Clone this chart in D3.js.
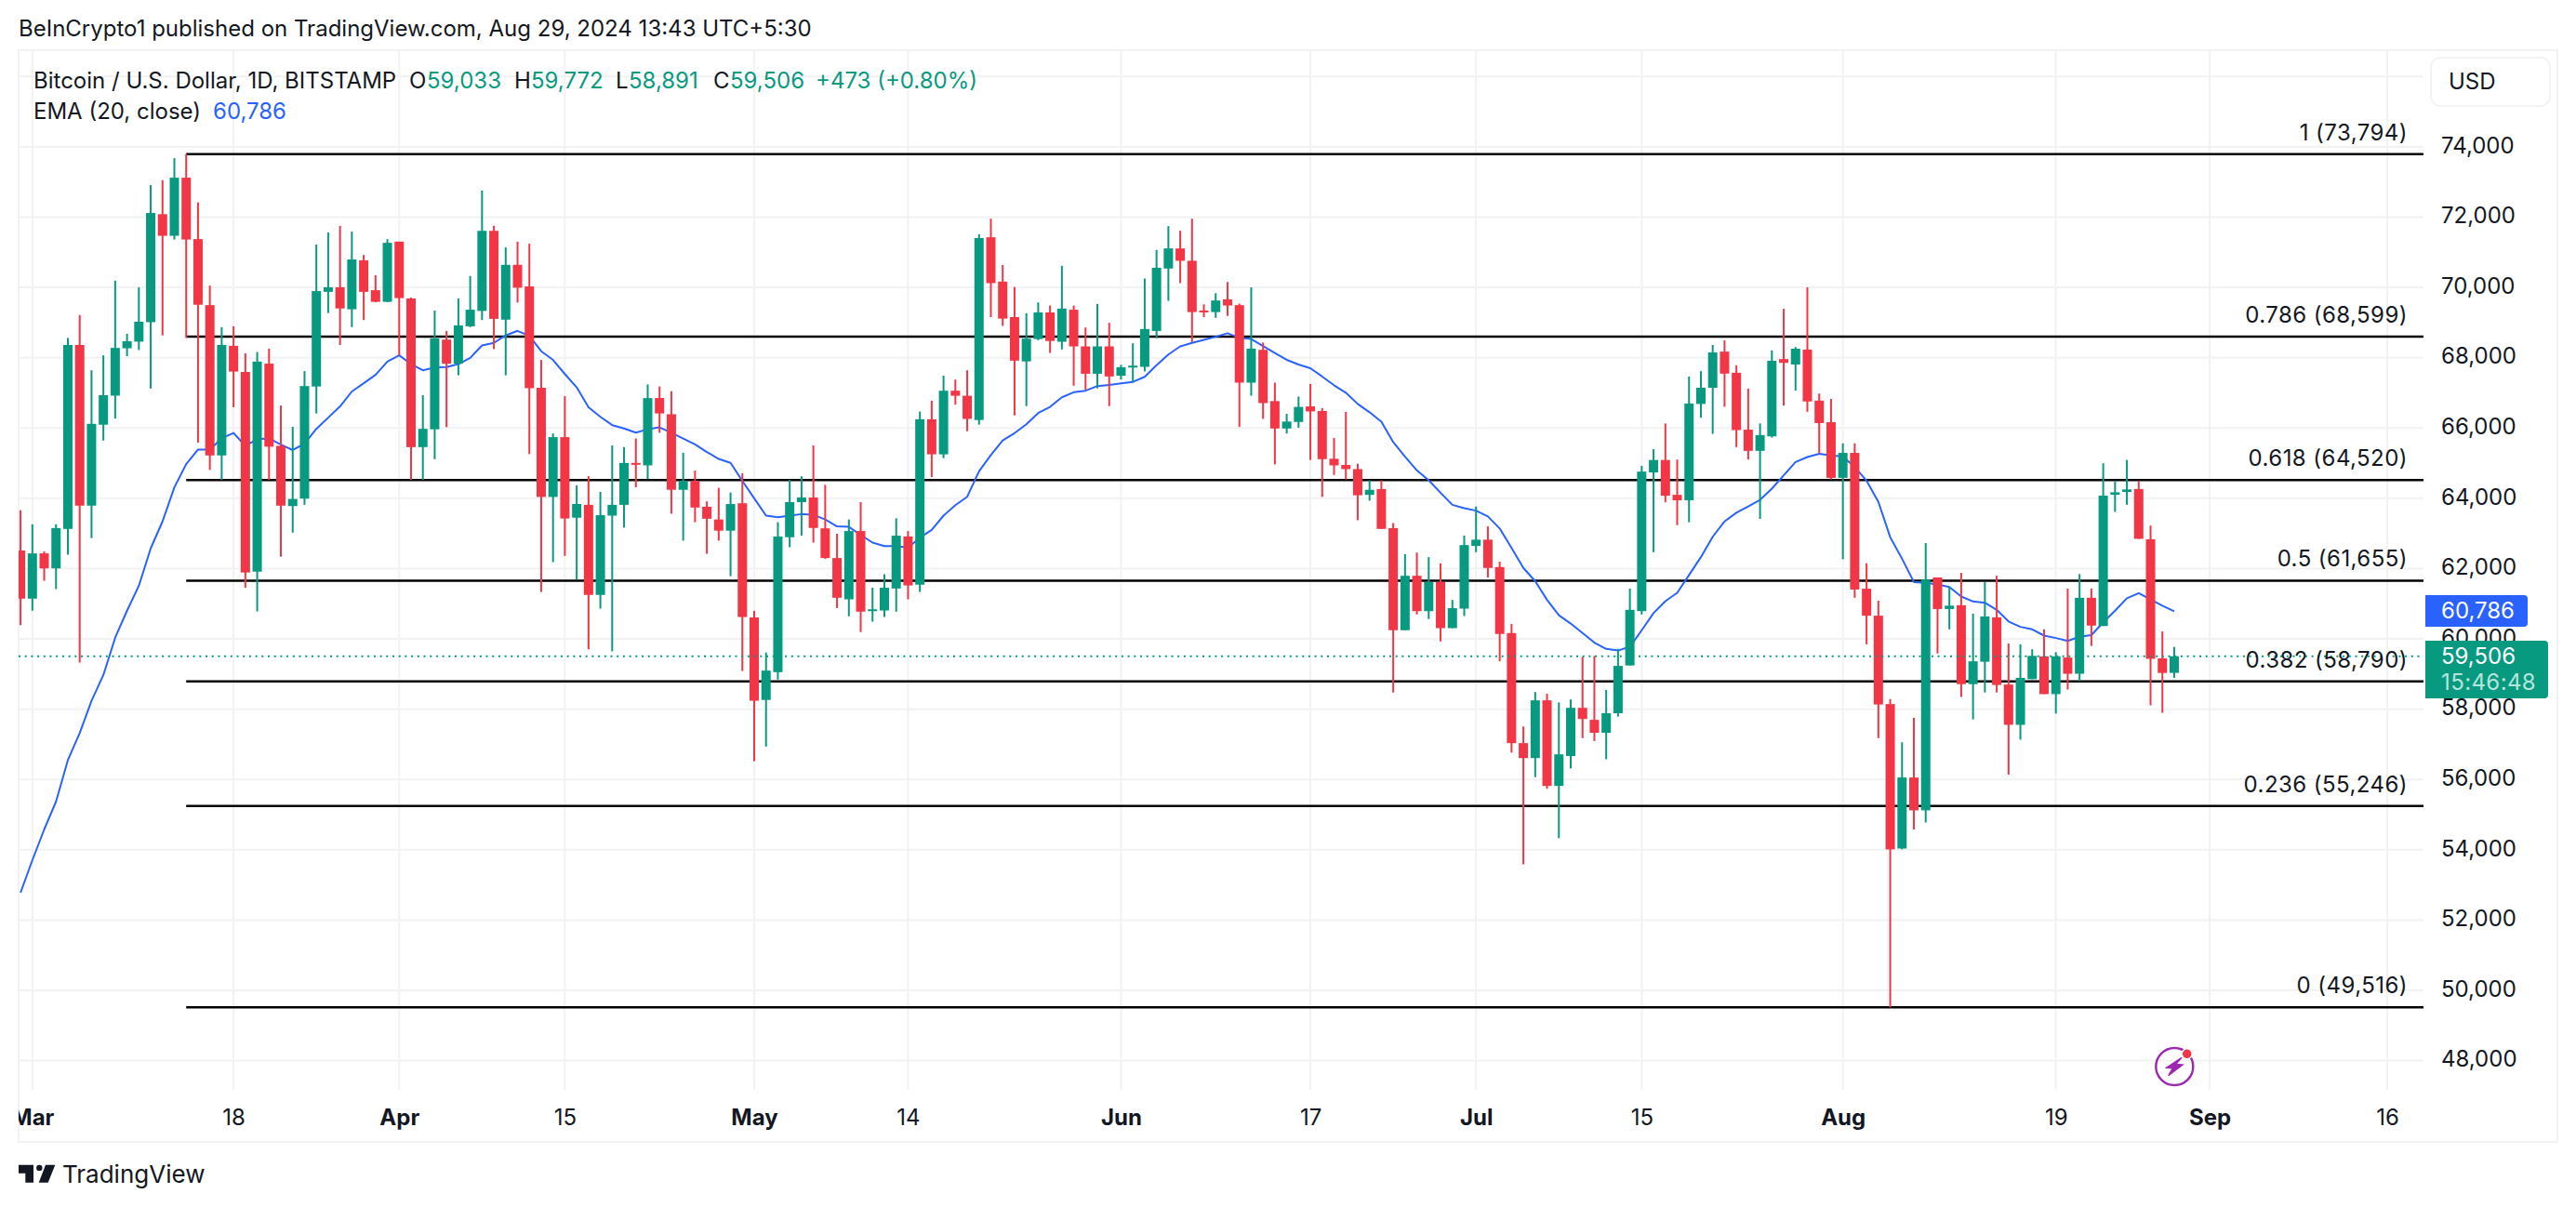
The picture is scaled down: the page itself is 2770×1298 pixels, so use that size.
<!DOCTYPE html>
<html>
<head>
<meta charset="utf-8">
<script src="https://cdn.jsdelivr.net/npm/d3@7/dist/d3.min.js"></script>
<style>
  html, body { margin: 0; padding: 0; background: #fff; }
  text { font-family: Inter, "Noto Sans", sans-serif; fill: #131722; }
</style>
</head>
<body>
<div id="chart"></div>
<script>
// first candle on the chart, one candle per day after that
const firstDay = "2024-02-29";

const openPrices = [
  62515,61145,62432,62007,63129,68362,63791,66094,66921,68268,
  68457,69012,72083,71469,73122,71374,69496,65220,68338,67594,
  61913,67831,65492,63779,63992,67181,69874,70004,69378,70772,
  69921,69591,71303,69685,65456,65964,68516,67831,68894,69331,
  71610,69083,70642,70028,67145,64039,65740,63448,63814,61251,
  63507,63814,65006,64937,66853,66392,64242,64494,63759,63397,
  63079,63858,60610,58263,59053,62892,63891,64022,63145,62300,
  61126,63068,60808,60808,61433,62914,61543,66249,65251,67061,
  66918,66227,71427,70165,69156,67895,68531,69288,68454,69365,
  68322,67544,68322,67489,67741,67741,68761,70538,71109,70758,
  69343,69299,69661,69496,67291,68224,66765,65986,66172,66614,
  66484,65125,64948,64830,64098,64263,63153,60247,61795,60790,
  61617,60306,60861,62645,62822,62043,60165,57034,56609,58251,
  55817,56668,58038,57696,57329,57885,59243,60790,64736,65090,
  64098,63944,66685,67145,68173,67571,65952,65350,65763,67960,
  67807,68232,66779,66165,64582,65291,61428,60660,58145,54035,
  56055,55122,61748,60850,60957,58712,59350,60614,58701,57555,
  58854,59504,58429,59468,59008,61169,60366,64099,64181,64264,
  62835,59445,59033
];
const highPrices = [
  63661,63259,62492,63259,68563,69213,67642,68067,70193,68681,
  70004,72910,73051,73677,73794,72414,70051,68870,68894,68126,
  68161,68256,66638,66035,67618,71221,71563,71752,71587,70925,
  70346,71374,71303,69709,66933,69342,68764,69685,70323,72756,
  71752,71138,71303,71244,67937,65846,66909,64370,64630,64181,
  65503,65456,65704,67240,67182,67050,65295,64790,63912,64296,
  64165,64713,60797,59612,63320,64527,64626,65503,64384,62991,
  63397,63891,61455,61839,63430,63068,66469,66776,67489,67379,
  67642,71515,71954,70637,70012,69266,69573,69485,70615,69485,
  68860,69529,68992,67796,68410,70253,71065,71745,71613,71954,
  69518,69836,70154,69540,70001,68432,67291,66403,66896,67252,
  66566,65716,66460,64984,64511,64511,63295,62409,62456,62326,
  62149,61109,62940,63767,63200,62196,60424,57507,58487,58440,
  58192,58275,59491,59515,58546,59716,61428,64925,65397,66129,
  65102,67464,67618,68362,68492,67783,67122,66129,68208,69390,
  68303,70004,66980,66826,65562,65562,62149,61086,58287,57059,
  57756,62729,61748,61488,61878,60720,61618,61795,59870,59846,
  59705,60272,59622,61429,61843,61429,64996,64500,65091,64500,
  63224,60212,59772
];
const lowPrices = [
  60389,60802,61653,61417,62397,59326,62869,65645,66271,68043,
  68220,67122,68634,71362,68563,65586,64807,64523,66590,61452,
  60779,64523,62338,63023,63814,66413,69272,68362,68870,69071,
  69579,69579,68067,64523,64523,65114,66023,67500,68870,69071,
  68244,67500,69567,65255,61334,62184,62362,61688,59704,60861,
  59645,63165,64310,64547,65865,63561,62794,63320,62421,62794,
  61784,59086,56519,56936,58844,62607,62936,62739,62278,60874,
  60643,60194,60490,60622,60775,61126,61335,64604,65141,66666,
  65909,66096,69156,68904,66359,66622,68498,68136,68235,67204,
  67083,67127,66622,67379,67291,67609,68553,69617,70122,68443,
  69156,69134,69189,66030,66918,66260,64966,65843,66008,65090,
  64039,64665,64535,63377,63932,63129,58475,60247,60696,60566,
  59928,60306,60649,62468,61747,59361,56763,53585,56066,55735,
  54329,56314,57176,57093,56574,57790,59243,60696,62468,63885,
  63236,63318,66295,65834,66602,65456,65102,63413,65728,66637,
  67063,66460,65279,64535,62267,61168,59846,57176,49516,54011,
  54578,54779,59586,60272,58346,57708,58476,58476,56137,57130,
  58854,58429,57874,58559,58795,59799,60366,63614,63815,62847,
  58110,57897,58891
];
const closePrices = [
  61145,62432,62007,63153,68362,63791,66118,66933,68279,68468,
  69023,72118,71469,73122,71362,69508,65220,68362,67606,61889,
  67890,65468,63791,63980,67193,69898,70004,69402,70795,69874,
  69591,71268,69697,65456,65976,68551,67831,68917,69366,71610,
  69106,70642,69992,67134,64039,65740,63425,63838,61251,63519,
  63814,65006,64960,66850,66414,64242,64494,63737,63419,63079,
  63836,60622,58241,59097,62914,63891,64022,63156,62300,61170,
  63068,60775,60841,61455,62936,61521,66249,65251,67061,66918,
  66260,71405,70122,69112,67917,68542,69288,68476,69398,68322,
  67544,68322,67467,67730,67774,68816,70560,71109,70758,69299,
  69310,69628,69485,67291,68257,66710,65986,66183,66600,66472,
  65114,64937,64830,64086,64240,63129,60247,61795,60790,61617,
  60306,60873,62669,62822,62019,60141,57034,56609,58251,55817,
  56715,58038,57720,57329,57885,59231,60826,64759,65090,64074,
  63944,66697,67145,68149,67547,65941,65350,65799,67913,67854,
  68256,66755,66141,64582,65291,61405,60660,58133,54011,56055,
  55122,61689,60850,60945,58712,59362,60638,58689,57555,58890,
  59516,58429,59504,59008,61169,60378,64075,64170,64252,62847,
  59433,59031,59506
];
const emaValues = [
  52778,53704,54577,55371,56550,57318,58238,58971,60035,60802,
  61511,62574,63342,64311,64972,65386,65386,65704,65858,65492,
  65681,65704,65527,65373,65551,65976,66295,66614,67039,67275,
  67512,67890,68067,67819,67642,67724,67736,67819,67996,68350,
  68421,68634,68764,68622,68185,67937,67535,67157,66590,66319,
  66082,65988,65870,65964,66019,65865,65701,65536,65317,65119,
  65010,64494,64000,63507,63463,63507,63550,63529,63397,63200,
  63188,62958,62739,62640,62640,62596,62881,63101,63507,63803,
  64044,64768,65229,65646,65854,66107,66425,66600,66874,67017,
  67061,67193,67225,67269,67313,67456,67785,68092,68322,68421,
  68509,68597,68695,68564,68531,68333,68136,67939,67807,67700,
  67464,67216,67004,66685,66448,66177,65598,65185,64795,64511,
  64157,63814,63720,63649,63484,63141,62586,62019,61641,61109,
  60672,60436,60165,59893,59715,59668,59775,60247,60731,61074,
  61310,61818,62326,62905,63342,63590,63767,63956,64275,64653,
  65031,65173,65267,65220,65185,64889,64500,63898,62894,62280,
  61618,61594,61547,61476,61205,61063,61028,60827,60496,60342,
  60272,60094,60024,59941,60059,60106,60472,60803,61157,61299,
  61122,60945,60786
];

const fibLevels = ["1","0.786","0.618","0.5","0.382","0.236","0"];
const fibPrices = [73794,68599,64520,61655,58790,55246,49516];
const fibStart = "2024-03-14";

const priceTicks = [48000,50000,52000,54000,56000,58000,60000,62000,64000,66000,68000,70000,72000,74000];
const gridOnlyPrices = [76000];
const timeTicks = ["2024-03-01","2024-03-18","2024-04-01","2024-04-15","2024-05-01","2024-05-14","2024-06-01","2024-06-17","2024-07-01","2024-07-15","2024-08-01","2024-08-19","2024-09-01","2024-09-16"];
const timeLabels = ["Mar","18","Apr","15","May","14","Jun","17","Jul","15","Aug","19","Sep","16"];

const lastPrice = 59506;
const lastEma = 60786;
const countdown = "15:46:48";

const parseDay = d3.utcParse("%Y-%m-%d");
const priceFormat = d3.format(",");
const upColor = "#089981", downColor = "#f23645", emaColor = "#2962ff";
const gridColor = "#f2f2f3";

const width = 2770, height = 1298;
const pane = { left: 20, right: 2606, top: 54, bottom: 1172 };

const candles = openPrices.map((o, i) => ({
  date: d3.utcDay.offset(parseDay(firstDay), i),
  open: o, high: highPrices[i], low: lowPrices[i], close: closePrices[i], ema: emaValues[i]
}));

// Mar 1 sits at x=34.8 and Sep 16 at x=2567
const x = d3.scaleUtc()
            .domain([parseDay("2024-03-01"), parseDay("2024-09-16")])
            .range([34.8, 2567]);

const y = d3.scaleLinear()
            .domain([50000, 72000])
            .range([1065, 233.5]);

const svg = d3.select("#chart")
              .append("svg")
              .attr("width", width)
              .attr("height", height)
              .style("display", "block")
              .style("background", "white");

svg.append("clipPath").attr("id", "pane-clip")
   .append("rect")
   .attr("x", pane.left).attr("y", pane.top)
   .attr("width", pane.right - pane.left).attr("height", pane.bottom - pane.top);

// header line above the frame
svg.append("text")
   .attr("x", 20).attr("y", 39)
   .attr("font-size", 24)
   .text("BeInCrypto1 published on TradingView.com, Aug 29, 2024 13:43 UTC+5:30");

// outer frame
svg.append("rect")
   .attr("x", pane.left).attr("y", pane.top)
   .attr("width", 2750 - pane.left).attr("height", 1228 - pane.top)
   .attr("fill", "none")
   .attr("stroke", gridColor)
   .attr("stroke-width", 2);

// grid
const grid = svg.append("g").attr("clip-path", "url(#pane-clip)");
grid.selectAll(".hgrid")
    .data(priceTicks.concat(gridOnlyPrices))
    .enter().append("line")
    .attr("x1", pane.left).attr("x2", pane.right)
    .attr("y1", d => y(d)).attr("y2", d => y(d))
    .attr("stroke", gridColor).attr("stroke-width", 2);
grid.selectAll(".vgrid")
    .data(timeTicks)
    .enter().append("line")
    .attr("x1", d => x(parseDay(d))).attr("x2", d => x(parseDay(d)))
    .attr("y1", pane.top).attr("y2", pane.bottom)
    .attr("stroke", gridColor).attr("stroke-width", 2);

const plot = svg.append("g").attr("clip-path", "url(#pane-clip)");

// fib retracement lines, candles are drawn over them
plot.selectAll(".fib")
    .data(fibPrices)
    .enter().append("line")
    .attr("x1", x(parseDay(fibStart))).attr("x2", pane.right)
    .attr("y1", d => y(d)).attr("y2", d => y(d))
    .attr("stroke", "#000").attr("stroke-width", 2.4);

// EMA
const emaLine = d3.line().x(d => x(d.date)).y(d => y(d.ema));
plot.append("path")
    .datum(candles)
    .attr("d", emaLine)
    .attr("fill", "none")
    .attr("stroke", emaColor)
    .attr("stroke-width", 2)
    .attr("stroke-linejoin", "round");

// candles
const candleGroup = plot.selectAll(".candle")
    .data(candles)
    .enter().append("g")
    .attr("fill", d => d.close >= d.open ? upColor : downColor)
    .attr("stroke", d => d.close >= d.open ? upColor : downColor);

candleGroup.append("line")
    .attr("x1", d => x(d.date)).attr("x2", d => x(d.date))
    .attr("y1", d => y(d.high)).attr("y2", d => y(d.low))
    .attr("stroke-width", 2);

candleGroup.append("rect")
    .attr("x", d => x(d.date) - 5)
    .attr("y", d => y(Math.max(d.open, d.close)))
    .attr("width", 10)
    .attr("height", d => Math.max(2, Math.abs(y(d.open) - y(d.close))))
    .attr("stroke", "none");

// dotted last price line
plot.append("line")
    .attr("x1", pane.left).attr("x2", pane.right)
    .attr("y1", y(lastPrice)).attr("y2", y(lastPrice))
    .attr("stroke", upColor)
    .attr("stroke-width", 2)
    .attr("stroke-dasharray", "2 4.7");

// fib labels
svg.selectAll(".fib-label")
   .data(fibPrices)
   .enter().append("text")
   .attr("x", 2589)
   .attr("y", d => y(d) - 15)
   .attr("text-anchor", "end")
   .attr("font-size", 24)
   .attr("letter-spacing", 0.45)
   .text((d, i) => `${fibLevels[i]} (${priceFormat(d)})`);

// price axis
const yAxis = svg.append("g")
    .attr("transform", "translate(2625,-1.5)")
    .call(d3.axisRight(y).tickValues(priceTicks).tickSize(0).tickPadding(0).tickFormat(priceFormat));
yAxis.select(".domain").remove();
yAxis.selectAll("text")
     .attr("font-size", 24)
     .attr("font-family", "Inter")
     .attr("fill", "#131722");

// time axis
svg.append("clipPath").attr("id", "frame-axis-clip")
   .append("rect")
   .attr("x", pane.left).attr("y", 0)
   .attr("width", 2750 - pane.left).attr("height", 60);

const xAxis = svg.append("g")
    .attr("transform", "translate(0,1172)")
    .attr("clip-path", "url(#frame-axis-clip)")
    .call(d3.axisBottom(x)
            .tickValues(timeTicks.map(parseDay))
            .tickSize(0).tickPadding(0)
            .tickFormat((d, i) => timeLabels[i]));
xAxis.select(".domain").remove();
xAxis.selectAll("text")
     .attr("y", 38)
     .attr("dy", 0)
     .attr("font-size", 24)
     .attr("font-family", "Inter")
     .attr("font-weight", (d, i) => isNaN(+timeLabels[i]) ? 700 : 400)
     .attr("fill", "#131722");

// legend
const legendOne = svg.append("text").attr("y", 95).attr("font-size", 24);
legendOne.append("tspan").attr("x", 36).text("Bitcoin / U.S. Dollar, 1D, BITSTAMP");
[["O", 440, "59,033", 459], ["H", 553, "59,772", 571], ["L", 662, "58,891", 676], ["C", 767, "59,506", 785]].forEach(p => {
  legendOne.append("tspan").attr("x", p[1]).text(p[0]);
  legendOne.append("tspan").attr("x", p[3]).style("fill", upColor).text(p[2]);
});
legendOne.append("tspan").attr("x", 877).style("fill", upColor).text("+473 (+0.80%)");

const legendTwo = svg.append("text").attr("y", 128).attr("font-size", 24);
legendTwo.append("tspan").attr("x", 36).text("EMA (20, close)");
legendTwo.append("tspan").attr("x", 229).style("fill", emaColor).text(priceFormat(lastEma));

// currency button
svg.append("rect")
   .attr("x", 2614).attr("y", 62)
   .attr("width", 128).attr("height", 52)
   .attr("rx", 10)
   .attr("fill", "white")
   .attr("stroke", "#f0f0f1").attr("stroke-width", 1.5);
svg.append("text")
   .attr("x", 2633).attr("y", 96)
   .attr("font-size", 24)
   .text("USD");

// price badges
svg.append("path")
   .attr("d", "M2608 640H2714a4 4 0 0 1 4 4V670a4 4 0 0 1 -4 4H2608Z")
   .attr("fill", emaColor);
svg.append("text")
   .attr("x", 2625).attr("y", 665)
   .attr("font-size", 24)
   .style("fill", "white")
   .text(priceFormat(lastEma));

svg.append("path")
   .attr("d", "M2608 689H2736a4 4 0 0 1 4 4V747a4 4 0 0 1 -4 4H2608Z")
   .attr("fill", upColor);
svg.append("text")
   .attr("x", 2625).attr("y", 714)
   .attr("font-size", 24)
   .style("fill", "#ffffff")
   .text(priceFormat(lastPrice));
svg.append("text")
   .attr("x", 2625).attr("y", 742)
   .attr("font-size", 24)
   .attr("letter-spacing", 0.4)
   .style("fill", "#b5e5db")
   .text(countdown);

// lightning icon
svg.append("circle")
   .attr("cx", 2338.3).attr("cy", 1147).attr("r", 20)
   .attr("fill", "none").attr("stroke", "#9c27b0").attr("stroke-width", 2.4);
svg.append("path")
   .attr("d", "M2346 1137.3L2329.3 1148.3L2336 1149L2331.7 1156.7L2347.3 1145L2340 1144.3Z")
   .attr("fill", "#9c27b0")
   .attr("stroke", "#9c27b0").attr("stroke-width", 1.2);
svg.append("circle")
   .attr("cx", 2351.7).attr("cy", 1133.3).attr("r", 5.5)
   .attr("fill", downColor).attr("stroke", "white").attr("stroke-width", 1.5);

// TradingView logo
svg.append("path")
   .attr("d", "M20 1252.7H36V1271.7H27.3V1261.7H20Z")
   .attr("fill", "#131722");
svg.append("circle")
   .attr("cx", 42.3).attr("cy", 1255.9).attr("r", 3.2)
   .attr("fill", "#131722");
svg.append("path")
   .attr("d", "M49 1252.7H59.3L51.7 1271.7H41.7Z")
   .attr("fill", "#131722");
svg.append("text")
   .attr("x", 67).attr("y", 1272)
   .attr("font-size", 26)
   .text("TradingView");
</script>
</body>
</html>
